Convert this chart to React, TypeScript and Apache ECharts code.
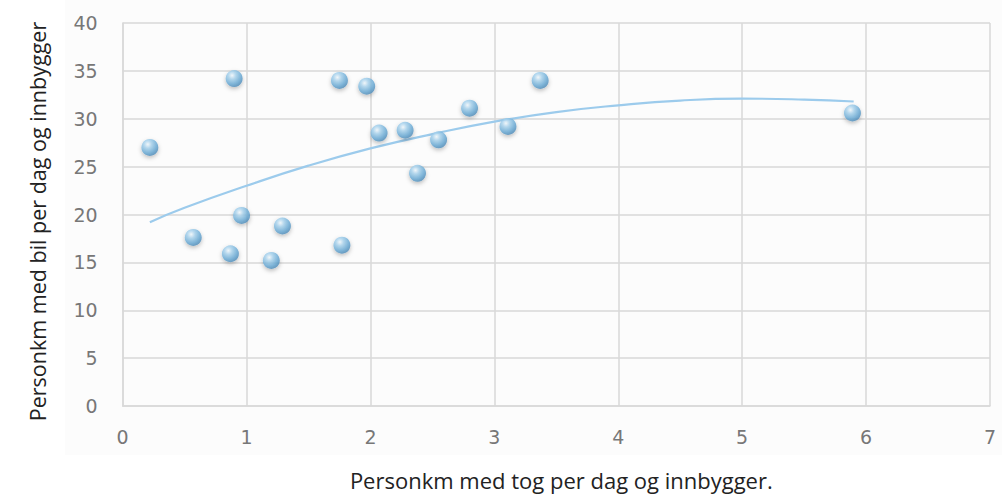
import React, { useEffect, useRef } from "react";
import * as echarts from "echarts";

const xValues = [0.22, 0.57, 0.9, 0.87, 0.96, 1.2, 1.29, 1.75, 1.77, 1.97, 2.07, 2.28, 2.38, 2.55, 2.8, 3.11, 3.37, 5.89];
const yValues = [27.0, 17.6, 34.2, 15.9, 19.9, 15.2, 18.8, 34.0, 16.8, 33.4, 28.5, 28.8, 24.3, 27.8, 31.1, 29.2, 34.0, 30.6];

const trendX = [0.22, 0.5, 1, 1.5, 2, 2.5, 3, 3.5, 4, 4.5, 5, 5.5, 5.9];
const trendY = [19.2, 20.7, 23.0, 25.1, 26.9, 28.4, 29.7, 30.7, 31.4, 31.9, 32.1, 32.0, 31.8];

const xTicks = [0, 1, 2, 3, 4, 5, 6, 7];
const yTicks = [0, 5, 10, 15, 20, 25, 30, 35, 40];

const xTitle = "Personkm med tog per dag og innbygger.";
const yTitle = "Personkm med bil per dag og innbygger";

export default function App() {
  const ref = useRef<HTMLDivElement>(null);
  useEffect(() => {
    if (!ref.current) return;
    const chart = echarts.init(ref.current, null, { renderer: "svg" });
    const points = xValues.map((x, i) => [x, yValues[i]]);
    const trend = trendX.map((x, i) => [x, trendY[i]]);
    const sphere = new echarts.graphic.RadialGradient(0.38, 0.32, 0.72, [
      { offset: 0, color: "#f4fbff" },
      { offset: 0.3, color: "#a9d4ef" },
      { offset: 0.7, color: "#6aabd6" },
      { offset: 1, color: "#4a87b5" },
    ]);
    chart.setOption({
      animation: false,
      backgroundColor: "#ffffff",
      graphic: [
        {
          type: "rect",
          shape: { x: 65, y: 0, width: 937, height: 455 },
          style: { fill: "#fcfcfc" },
          z: -10,
        },
      ],
      grid: { left: 122.6, right: 12, top: 23, bottom: 95 },
      xAxis: {
        type: "value",
        min: xTicks[0],
        max: xTicks[xTicks.length - 1],
        interval: 1,
        axisLine: { show: true, lineStyle: { color: "#d9d9d9", width: 1.5 } },
        axisTick: { show: false },
        splitLine: { show: true, lineStyle: { color: "#d9d9d9", width: 1.5 } },
        axisLabel: {
          color: "#777777",
          fontFamily: "'DejaVu Sans'",
          fontSize: 19,
          margin: 21,
        },
        name: xTitle,
        nameLocation: "middle",
        nameGap: 63,
        nameTextStyle: {
          color: "#222222",
          fontFamily: "'Open Sans'",
          fontSize: 22,
          padding: [0, 0, 0, 10],
        },
      },
      yAxis: {
        type: "value",
        min: yTicks[0],
        max: yTicks[yTicks.length - 1],
        interval: 5,
        axisLine: { show: true, lineStyle: { color: "#d9d9d9", width: 1.5 } },
        axisTick: { show: false },
        splitLine: { show: true, lineStyle: { color: "#d9d9d9", width: 1.5 } },
        axisLabel: {
          color: "#777777",
          fontFamily: "'DejaVu Sans'",
          fontSize: 19,
          margin: 25,
        },
        name: yTitle,
        nameLocation: "middle",
        nameGap: 74,
        nameTextStyle: {
          color: "#222222",
          fontFamily: "'Open Sans'",
          fontSize: 21.5,
          padding: [0, 14, 0, 0],
        },
      },
      series: [
        {
          type: "line",
          data: trend,
          smooth: true,
          symbol: "none",
          lineStyle: { color: "#9ccbec", width: 2.2 },
          z: 2,
        },
        {
          type: "scatter",
          data: points,
          symbol: "circle",
          symbolSize: 17,
          itemStyle: {
            color: sphere,
            shadowBlur: 4,
            shadowColor: "rgba(0,0,0,0.3)",
            shadowOffsetY: 2,
          },
          z: 3,
        },
      ],
    });
    return () => chart.dispose();
  }, []);
  return (
    <div
      ref={ref}
      style={{ position: "fixed", left: 0, top: 0, width: 1002, height: 501 }}
    />
  );
}
